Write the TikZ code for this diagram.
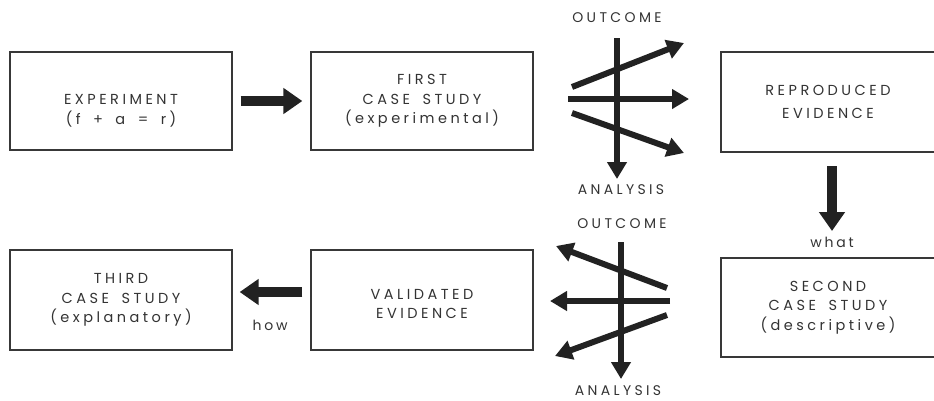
\documentclass[tikz,border=0pt]{standalone}
\usepackage{fontspec}
\setmainfont{Poppins}[LetterSpace=24,WordSpace=1.7]
\newfontfamily\lowfont{Poppins}[LetterSpace=20]
\usetikzlibrary{arrows.meta}
\definecolor{ink}{HTML}{222222}
\definecolor{txt}{HTML}{333333}
\tikzset{
  box/.style={draw=ink!90, line width=1.3pt, minimum width=222pt, minimum height=98pt,
    align=center, text=txt, font=\fontsize{14.5}{19.5}\selectfont, inner sep=0pt},
  bigarrow/.style={line width=9.5pt, -{Triangle[length=19pt,width=25pt]}, ink},
  fanarrow/.style={line width=6pt, -{Triangle[length=17pt,width=19pt]}, ink},
  lbl/.style={text=txt, font=\fontsize{14}{16}\selectfont, inner sep=0pt},
}
\begin{document}
\begin{tikzpicture}[x=1pt,y=-1pt]
\useasboundingbox (0,0) rectangle (934,400);

% boxes
\node[box] (exp)  at (121,101) {};
\node[txt, align=center, font=\fontsize{14.5}{19.5}\selectfont, inner sep=0pt] (expt) at (121,111) {EXPERIMENT\\(f + a = r)};
\node[box] (first) at (422,101) {FIRST\\CASE STUDY\\(experimental)};
\node[box, minimum width=214pt, minimum height=100pt] (repro) at (828,102) {REPRODUCED\\[3pt]EVIDENCE};
\node[box, minimum width=214pt, minimum height=99pt] (second) at (828,307.5) {SECOND\\CASE STUDY\\(descriptive)};
\node[box, minimum height=100pt] (valid) at (422,300) {};
\node[txt, align=center, font=\fontsize{14.5}{19.5}\selectfont, inner sep=0pt] (validt) at (422,304) {VALIDATED\\EVIDENCE};
\node[box, minimum height=100pt] (third) at (121,300) {THIRD\\CASE STUDY\\(explanatory)};

% main flow arrows
\draw[bigarrow] ([xshift=8pt]exp.east |- 0,101) -- ([xshift=-8pt]first.west |- 0,101);
\coordinate (rtop) at (832,166);
\coordinate (rbot) at (832,231);
\draw[bigarrow] (rtop) -- (rbot);
\node[lbl] (what) at (832,242) {{\lowfont what}};
\draw[bigarrow] ([xshift=-8pt]valid.west |- 0,292) -- ([xshift=7pt]third.east |- 0,292);
\node[lbl] (how) at (270,325) {{\lowfont how}};

% upper fan
\node[lbl] (out1) at (617,18) {OUTCOME};
\node[lbl] (ana1) at (621,190) {ANALYSIS};
\coordinate (v1a) at (617,38);
\coordinate (v1b) at (617,179);
\coordinate (u1a) at (572,87);
\coordinate (u1b) at (684,43);
\coordinate (m1a) at (568,99);
\coordinate (m1b) at (689,99);
\coordinate (l1a) at (572,113);
\coordinate (l1b) at (684,153);
\draw[fanarrow] (u1a) -- (u1b);
\draw[fanarrow] (m1a) -- (m1b);
\draw[fanarrow] (l1a) -- (l1b);
\draw[fanarrow] (v1a) -- (v1b);

% lower fan
\node[lbl] (out2) at (622,224) {OUTCOME};
\node[lbl] (ana2) at (618,391) {ANALYSIS};
\coordinate (v2a) at (621,242);
\coordinate (v2b) at (621,379);
\coordinate (u2a) at (667,288);
\coordinate (u2b) at (556,246);
\coordinate (m2a) at (670,301);
\coordinate (m2b) at (550,301);
\coordinate (l2a) at (667,315);
\coordinate (l2b) at (555,356);
\draw[fanarrow] (u2a) -- (u2b);
\draw[fanarrow] (m2a) -- (m2b);
\draw[fanarrow] (l2a) -- (l2b);
\draw[fanarrow] (v2a) -- (v2b);
\end{tikzpicture}
\end{document}
